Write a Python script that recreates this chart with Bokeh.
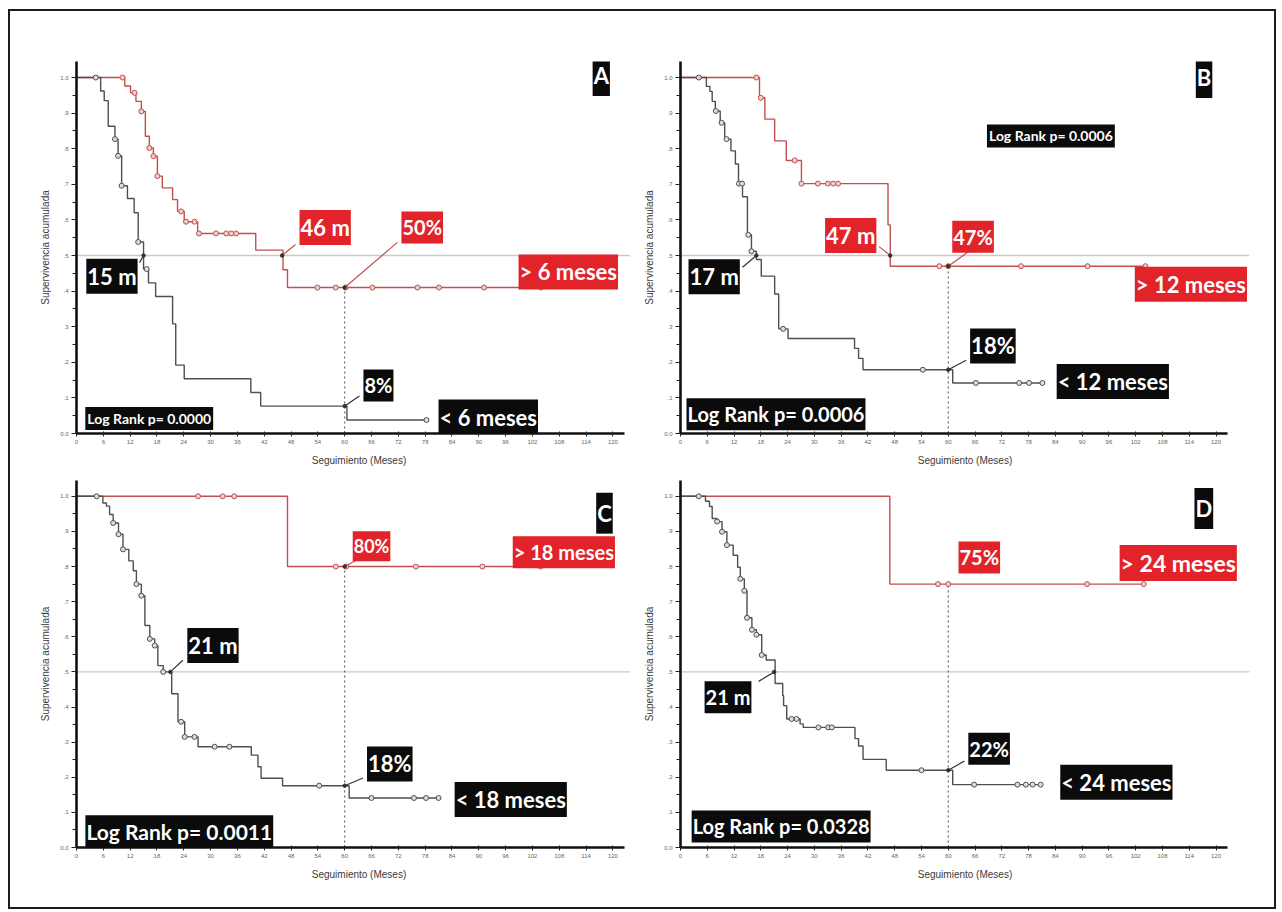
from bokeh.plotting import figure
from bokeh.models import Range1d, FixedTicker, Label
from bokeh.layouts import gridplot, column
from bokeh.embed import file_html
from bokeh.resources import INLINE

# ---------------------------------------------------------------- axes
x_ticks = [0, 6, 12, 18, 24, 30, 36, 42, 48, 54, 60, 66, 72, 78, 84, 90, 96, 102, 108, 114, 120]
y_ticks = [0.0, 0.1, 0.2, 0.3, 0.4, 0.5, 0.6, 0.7, 0.8, 0.9, 1.0]
y_tick_labels = ["0.0", ".1", ".2", ".3", ".4", ".5", ".6", ".7", ".8", ".9", "1.0"]
y_minor = [0.05, 0.15, 0.25, 0.35, 0.45, 0.55, 0.65, 0.75, 0.85, 0.95]
x_title = "Seguimiento (Meses)"
y_title = "Supervivencia acumulada"

# ---------------------------------------------------------------- panel A
a_low_t = [5.4, 6.2, 7.1, 8.6, 9.3, 10.1, 11.4, 12.9, 13.8, 15.0, 16.1, 17.7, 21.5, 22.2, 24.1, 39.0, 41.2, 60.5]
a_low_s = [0.962, 0.935, 0.863, 0.827, 0.78, 0.696, 0.66, 0.62, 0.538, 0.462, 0.423, 0.385, 0.308, 0.192, 0.154, 0.115, 0.077, 0.038]
a_low_end = 78.3
a_low_cens = [4.3, 8.6, 9.3, 10.1, 13.8, 15.7, 78.3]
a_high_t = [10.8, 12.1, 13.3, 14.5, 15.4, 16.3, 17.2, 18.1, 19.2, 21.5, 22.6, 24.1, 27.1, 40.1, 46.2, 47.2]
a_high_s = [0.976, 0.957, 0.933, 0.905, 0.835, 0.802, 0.779, 0.723, 0.69, 0.657, 0.624, 0.595, 0.562, 0.515, 0.46, 0.41]
a_high_end = 103.9
a_high_cens = [10.3, 13.0, 14.5, 16.3, 17.2, 18.1, 23.4, 24.5, 26.4, 27.4, 31.2, 33.5, 34.6, 35.7,
               53.9, 58.0, 60.2, 66.2, 76.3, 81.1, 91.2, 103.9]
a_medians = {"low": 15, "high": 46}

# ---------------------------------------------------------------- panel B
b_low_t = [5.8, 6.6, 7.1, 7.8, 8.9, 9.9, 11.3, 12.3, 13.0, 13.9, 15.0, 15.9, 17.0, 18.1, 21.1, 22.0, 24.1, 39.0, 39.9, 40.9, 61.0]
b_low_s = [0.975, 0.961, 0.933, 0.906, 0.873, 0.827, 0.794, 0.757, 0.702, 0.665, 0.558, 0.512, 0.489, 0.442, 0.392, 0.294, 0.267, 0.239, 0.211, 0.179, 0.142]
b_low_end = 81.1
b_low_cens = [4.1, 7.9, 9.2, 10.3, 13.1, 13.8, 15.2, 15.9, 23.0, 54.3, 66.2, 75.9, 78.1, 81.1]
b_high_t = [17.7, 18.9, 21.1, 23.7, 27.1, 46.5, 47.0]
b_high_s = [0.943, 0.883, 0.822, 0.767, 0.702, 0.586, 0.47]
b_high_end = 104.2
b_high_cens = [17.0, 18.0, 25.6, 27.1, 30.8, 33.0, 34.2, 35.3, 58.0, 60.0, 76.3, 91.2, 104.2]
b_medians = {"low": 17, "high": 47}

# ---------------------------------------------------------------- panel C
c_low_t = [5.9, 6.7, 7.4, 8.2, 9.4, 10.4, 11.7, 12.7, 13.4, 14.5, 15.3, 16.4, 17.5, 18.2, 19.4, 21.3, 22.7, 24.2, 27.2, 39.1, 40.6, 41.3, 46.1, 61.0]
c_low_s = [0.981, 0.972, 0.948, 0.924, 0.892, 0.849, 0.816, 0.788, 0.75, 0.717, 0.632, 0.594, 0.575, 0.518, 0.5, 0.438, 0.358, 0.315, 0.287, 0.263, 0.23, 0.197, 0.176, 0.141]
c_low_end = 81.0
c_low_cens = [4.5, 8.2, 9.4, 10.4, 13.4, 14.5, 16.4, 17.5, 19.4, 23.4, 24.2, 26.4, 30.9, 34.2, 54.3, 66.0, 75.5, 78.2, 81.0]
c_high_t = [47.2]
c_high_s = [0.8]
c_high_end = 103.8
c_high_cens = [27.2, 32.7, 35.3, 58.0, 60.3, 75.9, 90.8, 103.8]
c_medians = {"low": 21}

# ---------------------------------------------------------------- panel D
d_low_t = [5.6, 6.5, 7.1, 8.2, 9.3, 10.4, 11.8, 12.8, 13.4, 14.3, 14.9, 16.0, 17.0, 18.2, 19.2, 21.2, 22.9, 23.1, 23.8, 26.8, 27.5, 39.1, 39.9, 40.9, 46.1, 61.0]
d_low_s = [0.986, 0.971, 0.937, 0.928, 0.899, 0.861, 0.832, 0.798, 0.765, 0.731, 0.654, 0.62, 0.606, 0.548, 0.534, 0.467, 0.433, 0.404, 0.366, 0.352, 0.342, 0.31, 0.289, 0.251, 0.22, 0.179]
d_low_end = 80.7
d_low_cens = [4.1, 8.2, 9.3, 10.4, 13.4, 14.3, 14.9, 16.0, 17.0, 18.2, 24.9, 26.0, 30.9, 33.1, 33.9, 54.0, 65.8, 75.5, 77.4, 78.9, 80.7]
d_high_t = [46.9]
d_high_s = [0.75]
d_high_end = 103.8
d_high_cens = [57.7, 60.0, 91.1, 103.8]
d_medians = {"low": 21}

# ---------------------------------------------------------------- annotations
# (text, left x, middle y, box colour, font px, leader: None | (kind, curve, end x, end y))
a_notes = [
    ("A", 113.9, 1.006, "black", 22, None),
    ("15 m", 1.3, 0.442, "black", 22, ("median", "low", 14.1, 0.48)),
    ("46 m", 49.0, 0.579, "red", 22, ("median", "high", 49.0, 0.531)),
    ("50%", 71.8, 0.579, "red", 20, ("m60", "high", 71.8, 0.537)),
    ("> 6 meses", 98.0, 0.454, "red", 22, None),
    ("8%", 63.3, 0.135, "black", 20, ("m60", "low", 63.3, 0.105)),
    ("< 6 meses", 80.1, 0.046, "black", 22, None),
    ("Log Rank p= 0.0000", 1.3, 0.042, "black", 14, None),
]
b_notes = [
    ("B", 113.9, 1.0, "black", 22, None),
    ("Log Rank p= 0.0006", 68.0, 0.836, "black", 14, None),
    ("17 m", 0.9, 0.44, "black", 22, ("median", "low", 13.9, 0.467)),
    ("47 m", 31.5, 0.556, "red", 22, ("median", "high", 44.5, 0.525)),
    ("47%", 60.0, 0.553, "red", 20, ("m60", "high", 66.2, 0.526)),
    ("> 12 meses", 100.9, 0.419, "red", 22, None),
    ("18%", 64.0, 0.246, "black", 22, ("m60", "low", 64.0, 0.206)),
    ("< 12 meses", 83.4, 0.146, "black", 22, None),
    ("Log Rank p= 0.0006", 0.45, 0.054, "black", 20, None),
]
c_notes = [
    ("C", 114.7, 0.952, "black", 22, None),
    ("21 m", 23.9, 0.575, "black", 22, ("median", "low", 23.8, 0.533)),
    ("80%", 60.9, 0.858, "red", 18, ("m60", "high", 63.6, 0.825)),
    ("> 18 meses", 96.7, 0.841, "red", 20, None),
    ("18%", 64.1, 0.238, "black", 22, ("m60", "low", 64.1, 0.198)),
    ("< 18 meses", 83.7, 0.137, "black", 22, None),
    ("Log Rank p= 0.0011", 1.1, 0.045, "black", 21, None),
]
d_notes = [
    ("D", 113.6, 0.965, "black", 22, None),
    ("75%", 61.4, 0.826, "red", 20, None),
    ("> 24 meses", 97.5, 0.81, "red", 23, None),
    ("22%", 63.6, 0.281, "black", 20, ("m60", "low", 63.6, 0.246)),
    ("< 24 meses", 84.2, 0.186, "black", 22, None),
    ("21 m", 4.5, 0.428, "black", 20, ("median", "low", 17.5, 0.473)),
    ("Log Rank p= 0.0328", 1.6, 0.06, "black", 20, None),
]

# ---------------------------------------------------------------- style
BOX = {"red": "#e2232a", "black": "#0b0b0b"}
CURVE = {"low": "#4f4f4f", "high": "#c0504d"}
MARK_FILL = {"low": "#dddddd", "high": "#f0cccb"}
LEADER = {"red": "#c0504d", "black": "#333333"}
AXIS_FONT = "Liberation Sans"
BOX_FONT = "Lato"

COLS = [dict(w=631, left=66, right=0, xend=126.4, ref_end=123.8),
        dict(w=633, left=38, right=25, xend=127.5, ref_end=127.5)]
ROWS = [dict(h=463, top=50, bottom=41),
        dict(h=433, top=6, bottom=60)]


def step_xy(t, s, end):
    return [0.0] + list(t) + [end], [1.0] + list(s) + [s[-1]]


def surv_at(t, s, x):
    out = 1.0
    for ti, si in zip(t, s):
        if ti <= x:
            out = si
    return out


def build_panel(col, row, curves, medians, notes):
    p = figure(width=col["w"], height=row["h"],
               x_range=Range1d(0, col["xend"]), y_range=Range1d(0, 1.045),
               min_border_left=col["left"], min_border_right=col["right"],
               min_border_top=row["top"], min_border_bottom=row["bottom"],
               output_backend="svg", toolbar_location=None, tools="")
    p.outline_line_color = None
    p.xgrid.visible = False
    p.ygrid.visible = False
    p.background_fill_color = "white"
    p.border_fill_color = "white"

    xa = p.xaxis[0]
    xa.ticker = FixedTicker(ticks=x_ticks)
    xa.bounds = (0, 122.5)
    ya = p.yaxis[0]
    ya.ticker = FixedTicker(ticks=y_ticks, minor_ticks=y_minor)
    ya.major_label_overrides = {v: lab for v, lab in zip(y_ticks, y_tick_labels)}
    for ax in (xa, ya):
        ax.axis_line_width = 2.6
        ax.axis_line_color = "#111111"
        ax.major_tick_line_color = "#222222"
        ax.major_tick_line_width = 1
        ax.minor_tick_line_color = "#222222"
        ax.major_label_text_font = AXIS_FONT
        ax.major_label_text_font_size = "6px"
        ax.major_label_text_color = "#666666"
        ax.major_label_standoff = 3
        ax.axis_label_text_font = AXIS_FONT
        ax.axis_label_text_font_size = "10px"
        ax.axis_label_text_font_style = "normal"
        ax.axis_label_text_color = "#3a3a3a"
    xa.axis_label = x_title
    xa.axis_label_standoff = 8
    ya.axis_label = y_title
    ya.axis_label_standoff = 6
    xa.major_tick_in = 2
    xa.major_tick_out = 3
    xa.minor_tick_out = 0
    xa.minor_tick_in = 0
    ya.major_tick_in = 0
    ya.major_tick_out = 5
    ya.minor_tick_in = 0
    ya.minor_tick_out = 4

    # reference level at 50 %
    p.line([0, col["ref_end"]], [0.5, 0.5], line_color="#c9c9c9", line_width=1.4)

    # 60-month cut
    hi_t, hi_s, _, _ = curves["high"]
    p.segment(x0=[60], y0=[0], x1=[60], y1=[surv_at(hi_t, hi_s, 60)],
              line_color="#5a5a5a", line_width=1.1, line_dash="2 3")

    for key in ("high", "low"):
        t, s, end, cens = curves[key]
        xs, ys = step_xy(t, s, end)
        p.step(xs, ys, mode="after", line_color=CURVE[key], line_width=1.4)
        p.scatter(cens, [surv_at(t, s, c) for c in cens], marker="circle", size=5,
                  line_color=CURVE[key], fill_color=MARK_FILL[key], line_width=1)

    # text boxes and their leader lines
    for text, x, y, colour, size, leader in notes:
        if leader is not None:
            kind, key, ex, ey = leader
            t, s, _, _ = curves[key]
            if kind == "median":
                sx, sy = medians[key], 0.5
            else:
                sx, sy = 60, surv_at(t, s, 60)
            p.segment(x0=[sx], y0=[sy], x1=[ex], y1=[ey], line_color=LEADER[colour], line_width=1.2)
            p.scatter([sx], [sy], marker="circle", size=3.5, color="#333333")
        if len(text) == 1:
            hpad, vpad = 7, 1
        elif size >= 18:
            hpad, vpad = 4, 1
        else:
            hpad, vpad = 3, 2
        p.add_layout(Label(x=x, y=y, x_units="data", y_units="data", text=text,
                           x_offset=hpad, text_align="left", text_baseline="middle",
                           text_font=BOX_FONT, text_font_style="bold",
                           text_font_size=f"{size}px", text_color="white",
                           background_fill_color=BOX[colour], background_fill_alpha=1.0,
                           padding=(vpad, hpad)))
    return p


pa = build_panel(COLS[0], ROWS[0],
                 {"low": (a_low_t, a_low_s, a_low_end, a_low_cens),
                  "high": (a_high_t, a_high_s, a_high_end, a_high_cens)}, a_medians, a_notes)
pb = build_panel(COLS[1], ROWS[0],
                 {"low": (b_low_t, b_low_s, b_low_end, b_low_cens),
                  "high": (b_high_t, b_high_s, b_high_end, b_high_cens)}, b_medians, b_notes)
pc = build_panel(COLS[0], ROWS[1],
                 {"low": (c_low_t, c_low_s, c_low_end, c_low_cens),
                  "high": (c_high_t, c_high_s, c_high_end, c_high_cens)}, c_medians, c_notes)
pd = build_panel(COLS[1], ROWS[1],
                 {"low": (d_low_t, d_low_s, d_low_end, d_low_cens),
                  "high": (d_high_t, d_high_s, d_high_end, d_high_cens)}, d_medians, d_notes)

grid = gridplot([[pa, pb], [pc, pd]], toolbar_location=None)
page = column(grid, styles={"border": "2px solid #1c1c1c", "background-color": "white"},
              margin=(9, 0, 0, 8))

open("out.html", "w").write(file_html(page, INLINE))
